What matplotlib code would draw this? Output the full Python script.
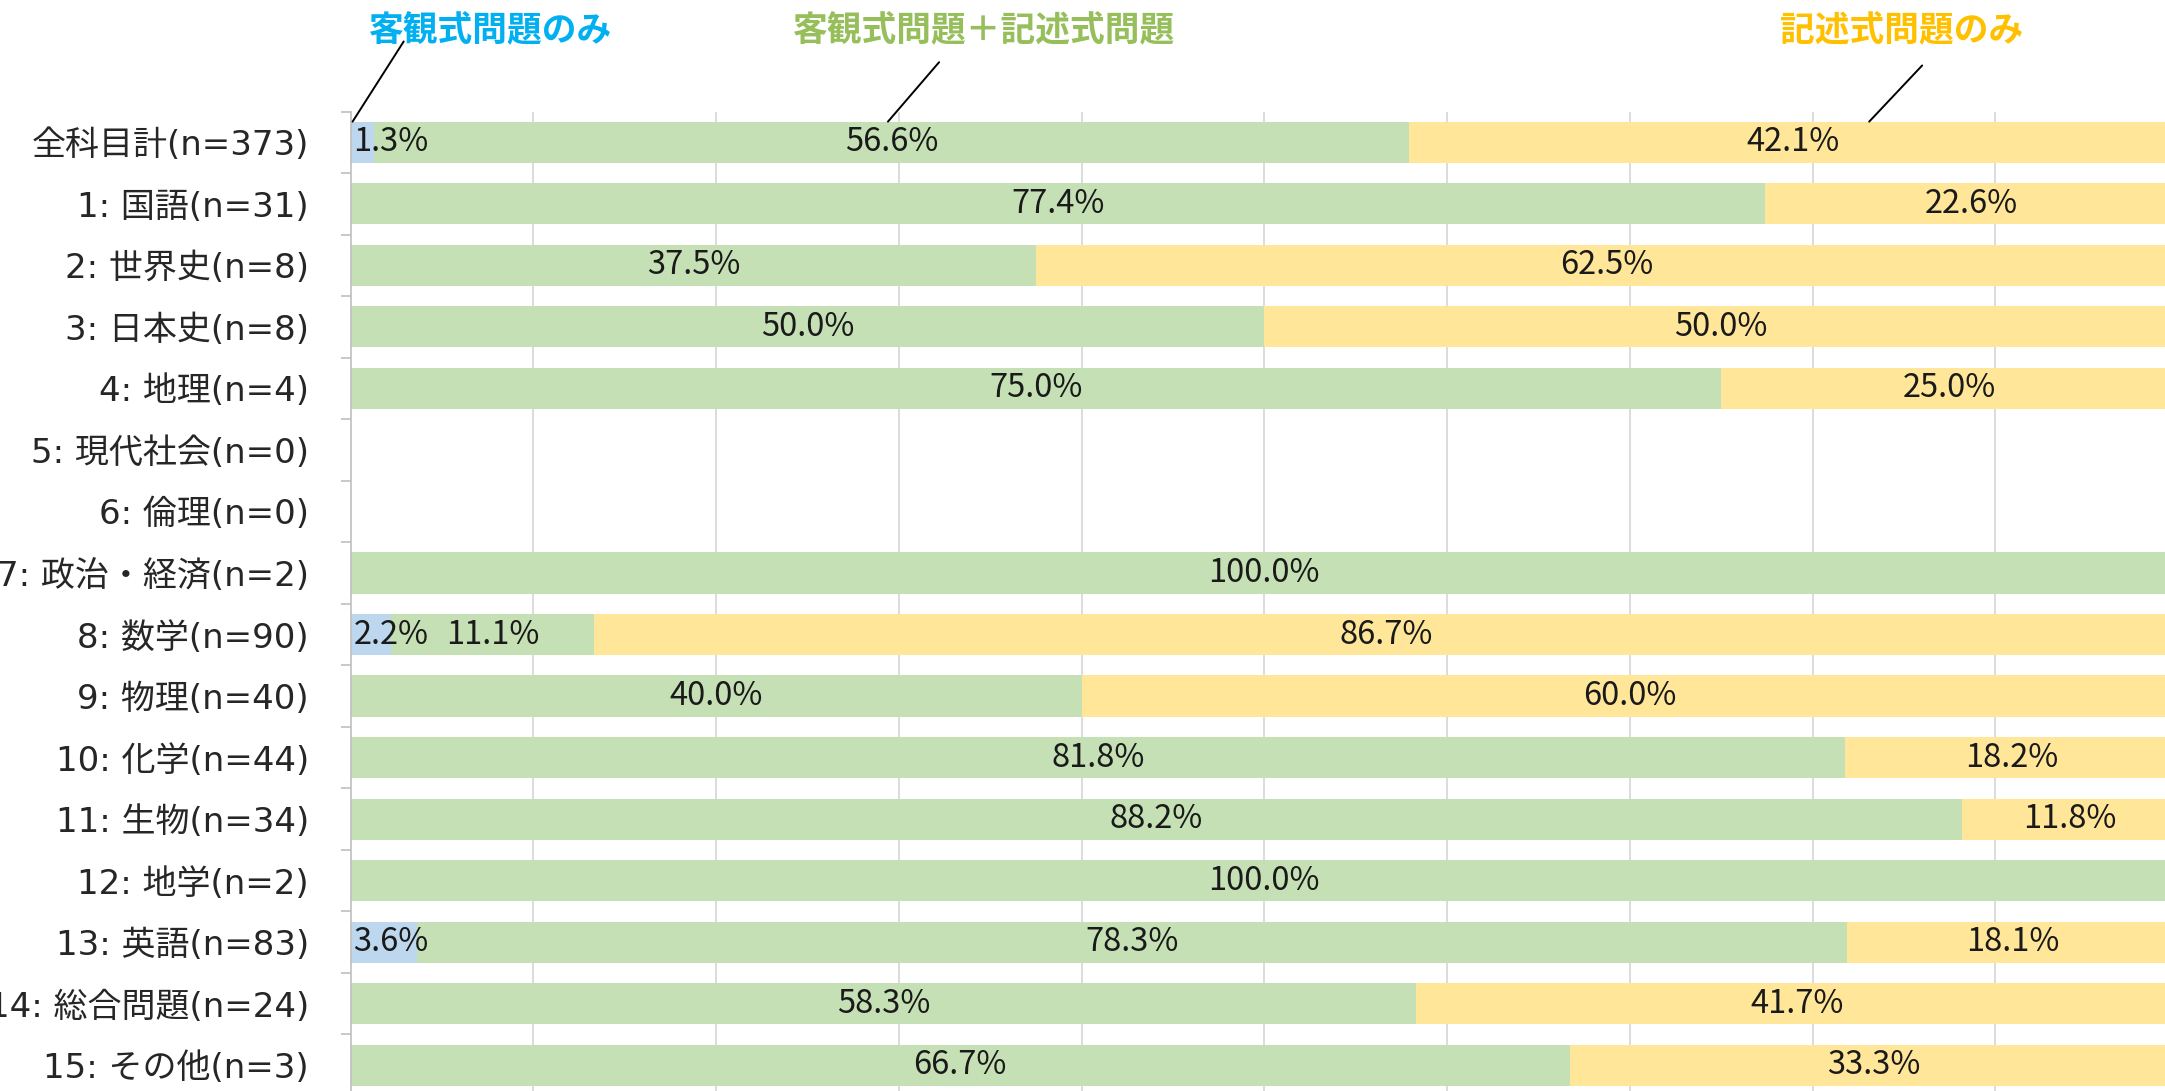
import matplotlib

matplotlib.use("Agg")

import matplotlib.pyplot as plt  # noqa: E402
import matplotlib.transforms as mtransforms  # noqa: E402
import numpy as np  # noqa: E402

plt.rcParams["font.family"] = ["Noto Sans CJK JP", "DejaVu Sans"]

CATEGORIES = [
    "全科目計(n=373)", "1: 国語(n=31)", "2: 世界史(n=8)", "3: 日本史(n=8)",
    "4: 地理(n=4)", "5: 現代社会(n=0)", "6: 倫理(n=0)", "7: 政治・経済(n=2)",
    "8: 数学(n=90)", "9: 物理(n=40)", "10: 化学(n=44)", "11: 生物(n=34)",
    "12: 地学(n=2)", "13: 英語(n=83)", "14: 総合問題(n=24)", "15: その他(n=3)",
]
OBJ_ONLY = [1.3, 0, 0, 0, 0, 0, 0, 0, 2.2, 0, 0, 0, 0, 3.6, 0, 0]
OBJ_PLUS_DESC = [56.6, 77.4, 37.5, 50.0, 75.0, 0, 0, 100.0, 11.1, 40.0, 81.8,
                 88.2, 100.0, 78.3, 58.3, 66.7]
DESC_ONLY = [42.1, 22.6, 62.5, 50.0, 25.0, 0, 0, 0, 86.7, 60.0, 18.2, 11.8,
             0, 18.1, 41.7, 33.3]
SERIES_NAMES = ["客観式問題のみ", "客観式問題＋記述式問題", "記述式問題のみ"]

COLORS = ["#BDD7EE", "#C5E0B4", "#FFE699"]
TITLE_COLORS = ["#00B0F0", "#96BF5B", "#FFC000"]

fig = plt.figure(figsize=(21.65, 10.91), dpi=100)
ax = fig.add_axes([0.162, -0.0046, 0.844, 0.9024])

y = np.arange(len(CATEGORIES))
a = np.array(OBJ_ONLY)
b = np.array(OBJ_PLUS_DESC)
c = np.array(DESC_ONLY)
h = 0.67

ax.barh(y, a, height=h, color=COLORS[0], zorder=2)
ax.barh(y, b, left=a, height=h, color=COLORS[1], zorder=2)
ax.barh(y, c, left=a + b, height=h, color=COLORS[2], zorder=2)

fs_val = 23.5
for i in range(len(y)):
    if a[i] > 0:
        ax.text(0.15, y[i], f"{a[i]:.1f}%", ha="left", va="center",
                fontsize=fs_val, color="#1a1a1a", zorder=3)
    if b[i] > 0:
        ax.text(a[i] + b[i] / 2, y[i], f"{b[i]:.1f}%", ha="center", va="center",
                fontsize=fs_val, color="#1a1a1a", zorder=3)
    if c[i] > 0:
        ax.text(a[i] + b[i] + c[i] / 2, y[i], f"{c[i]:.1f}%", ha="center",
                va="center", fontsize=fs_val, color="#1a1a1a", zorder=3)

ax.set_xlim(0, 100)
ax.set_ylim(len(y) - 0.5, -0.5)
ax.set_xticks(np.arange(10, 101, 10))
ax.tick_params(axis="x", length=0, labelbottom=False)
ax.grid(axis="x", color="#D9D9D9", lw=1.3, zorder=0)
ax.set_axisbelow(True)

ax.set_yticks(y)
ax.set_yticklabels(CATEGORIES, fontsize=24.5, color="#262626",
                   family=["DejaVu Sans", "Noto Sans CJK JP"])
ax.tick_params(axis="y", which="major", length=0, pad=30)
ax.set_yticks(np.arange(-0.5, len(y), 1.0), minor=True)
ax.tick_params(axis="y", which="minor", length=7, width=1.2, color="#BFBFBF")

for s in ("top", "right", "bottom"):
    ax.spines[s].set_visible(False)
ax.spines["left"].set_color("#BFBFBF")
ax.spines["left"].set_linewidth(1.2)

# series call-outs above the chart
blend = mtransforms.blended_transform_factory(ax.transData, fig.transFigure)
text_x = [7.6, 34.6, 84.9]
line_start = [(2.9, 0.962), (32.2, 0.943), (86.0, 0.940)]
line_end_x = [0.1, 29.4, 83.1]
for k in range(3):
    ax.text(text_x[k], 0.972, SERIES_NAMES[k], transform=blend, ha="center",
            va="center", fontsize=25, fontweight="bold", color=TITLE_COLORS[k],
            clip_on=False)
    ax.annotate("", xy=(line_end_x[k], -h / 2), xycoords="data",
                xytext=line_start[k], textcoords=blend,
                arrowprops=dict(arrowstyle="-", color="black", lw=1.4,
                                shrinkA=0, shrinkB=0),
                annotation_clip=False)

fig.savefig("out.png", dpi=100)
